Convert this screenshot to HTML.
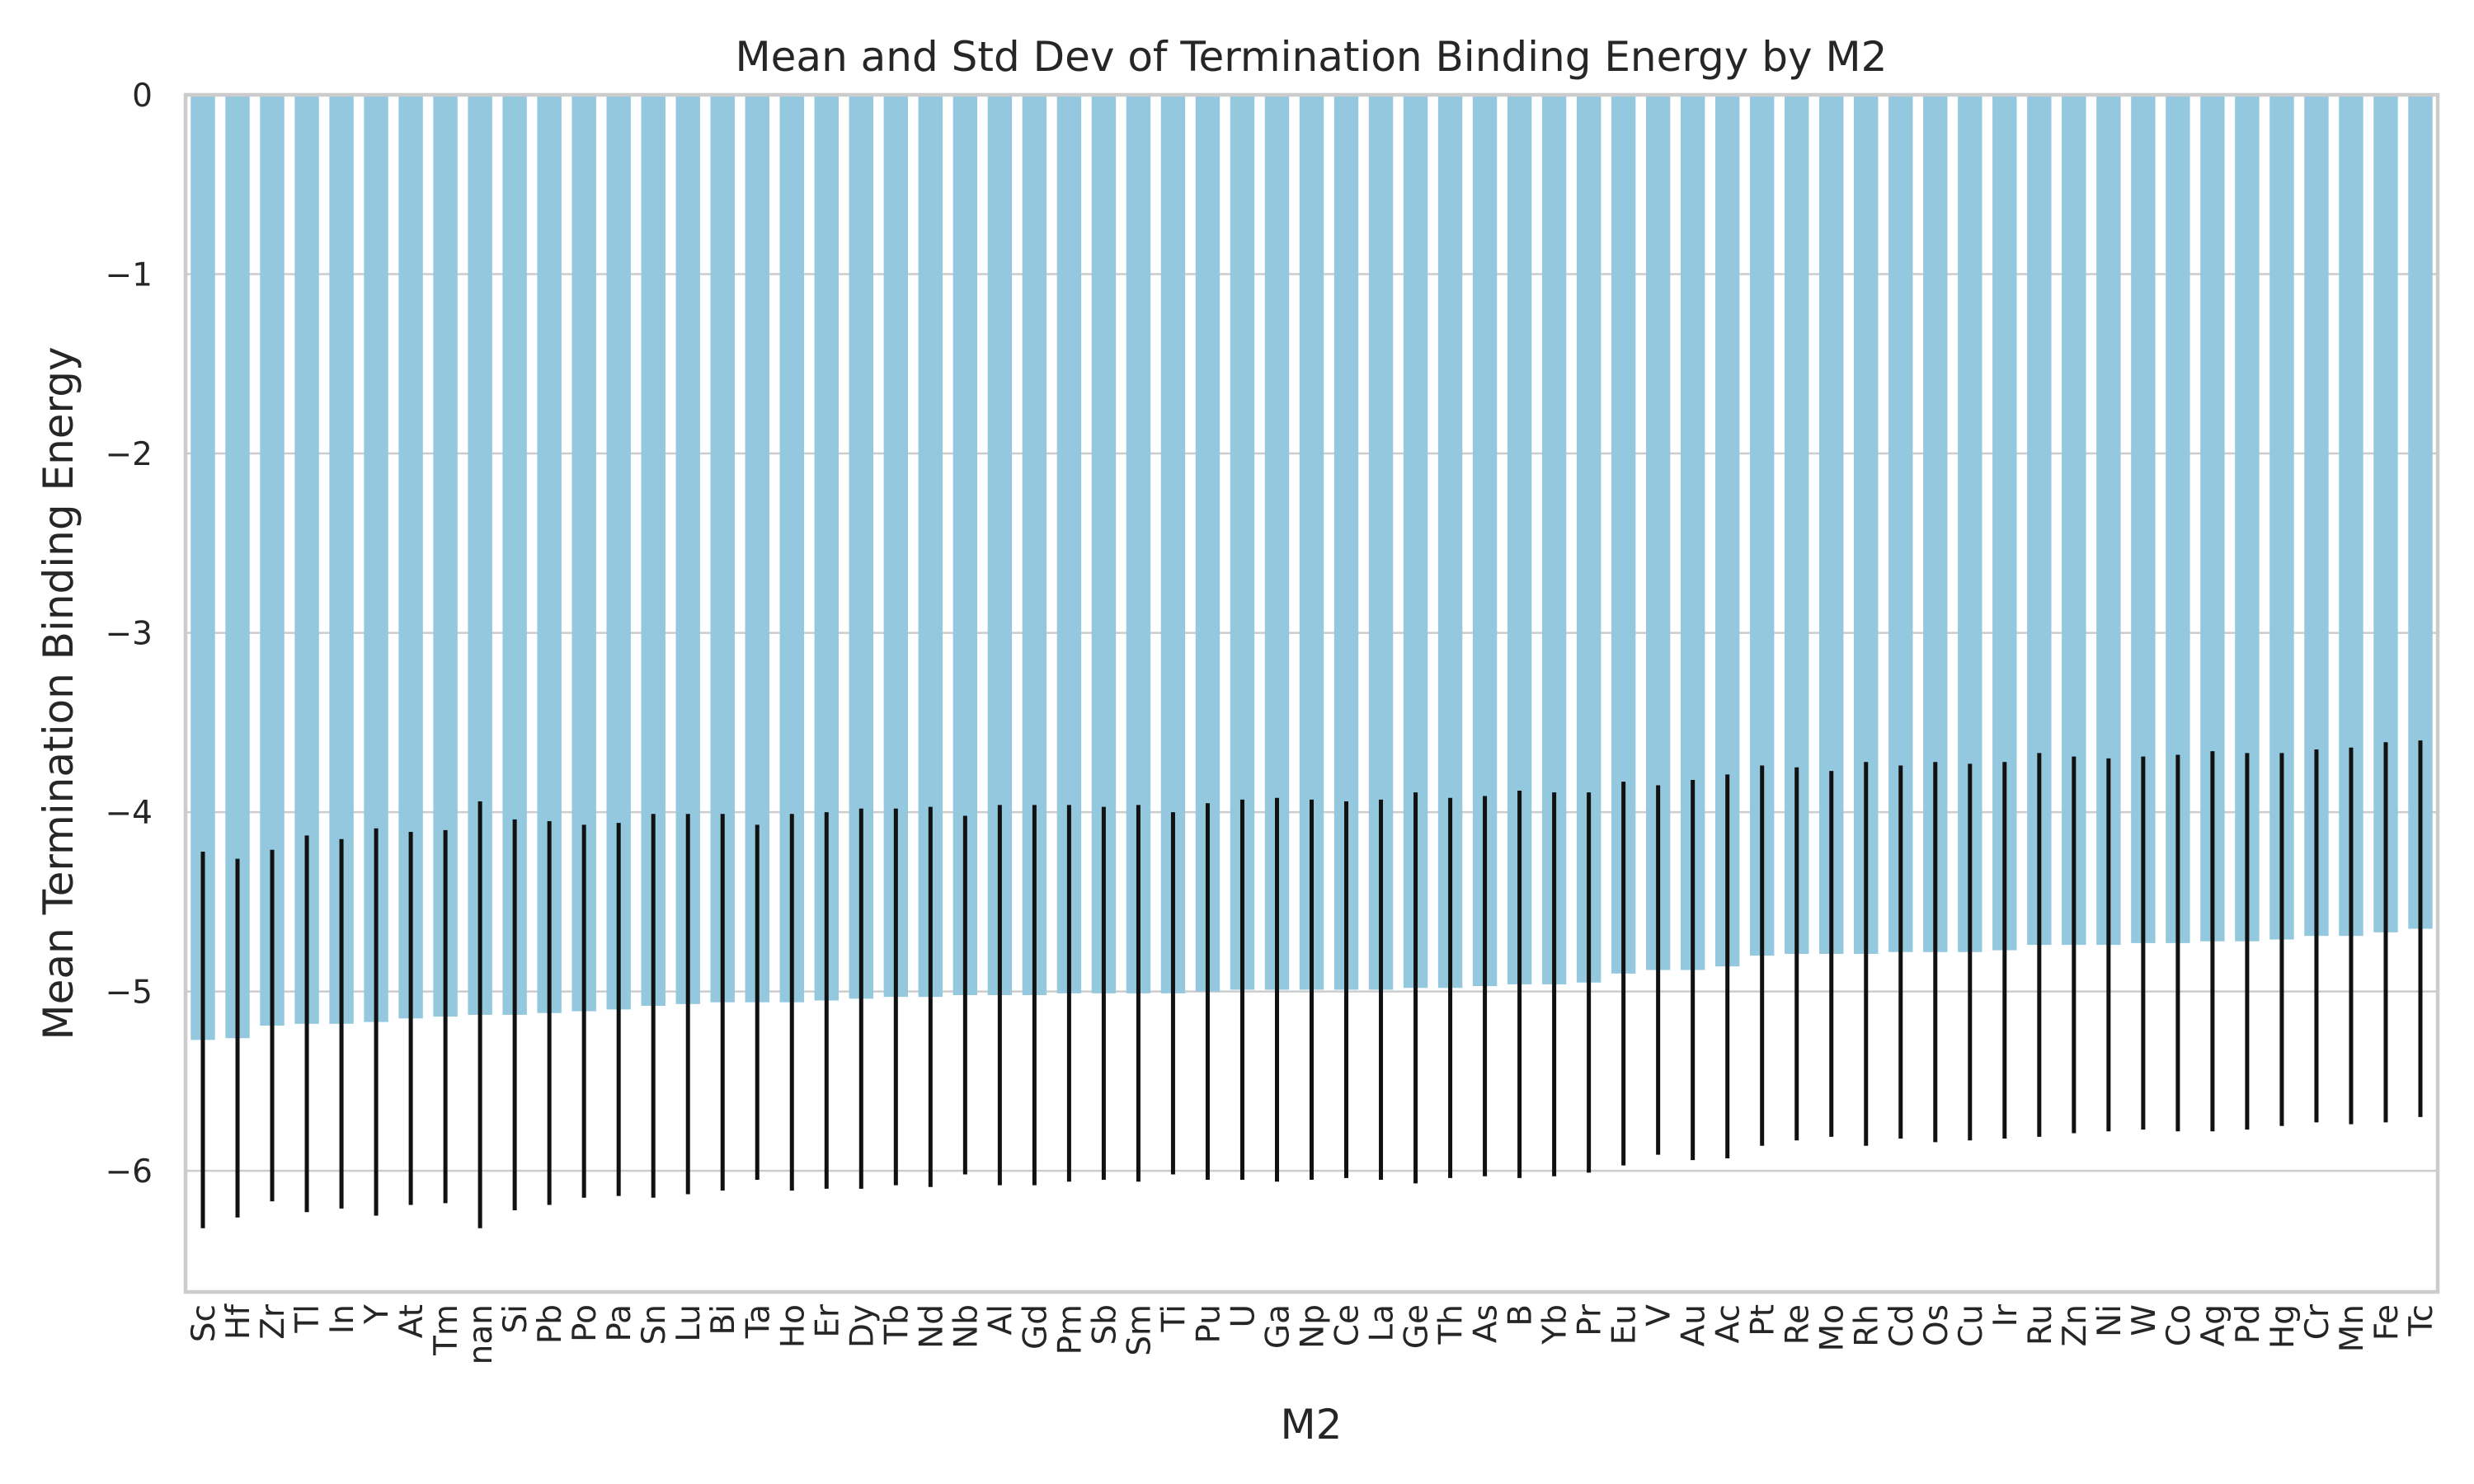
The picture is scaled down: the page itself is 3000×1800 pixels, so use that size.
<!DOCTYPE html>
<html><head><meta charset="utf-8"><style>
html,body{margin:0;padding:0;background:#fff;}
svg{display:block;font-family:"DejaVu Sans","Liberation Sans",sans-serif;}
</style></head><body>
<svg id="chart" width="3000" height="1800" viewBox="0 0 3000 1800">
<rect width="3000" height="1800" fill="#fff"/>
<text x="1590" y="86" font-size="50" text-anchor="middle" fill="#262626">Mean and Std Dev of Termination Binding Energy by M2</text>
<g id="grid"></g><g id="bars"></g><g id="errs"></g><g id="yticks"></g><g id="xticks"></g>
<rect x="225" y="115" width="2731" height="1452" fill="none" stroke="#cccccc" stroke-width="4.5"/>
<text x="0" y="0" transform="translate(88,841) rotate(-90)" font-size="50" text-anchor="middle" fill="#262626">Mean Termination Binding Energy</text>
<text x="1590" y="1745" font-size="50" text-anchor="middle" fill="#262626">M2</text>
</svg>
<script>
const categories=["Sc","Hf","Zr","Tl","In","Y","At","Tm","nan","Si","Pb","Po","Pa","Sn","Lu","Bi","Ta","Ho","Er","Dy","Tb","Nd","Nb","Al","Gd","Pm","Sb","Sm","Ti","Pu","U","Ga","Np","Ce","La","Ge","Th","As","B","Yb","Pr","Eu","V","Au","Ac","Pt","Re","Mo","Rh","Cd","Os","Cu","Ir","Ru","Zn","Ni","W","Co","Ag","Pd","Hg","Cr","Mn","Fe","Tc"];
const means=[-5.27,-5.26,-5.19,-5.18,-5.18,-5.17,-5.15,-5.14,-5.13,-5.13,-5.12,-5.11,-5.10,-5.08,-5.07,-5.06,-5.06,-5.06,-5.05,-5.04,-5.03,-5.03,-5.02,-5.02,-5.02,-5.01,-5.01,-5.01,-5.01,-5.00,-4.99,-4.99,-4.99,-4.99,-4.99,-4.98,-4.98,-4.97,-4.96,-4.96,-4.95,-4.90,-4.88,-4.88,-4.86,-4.80,-4.79,-4.79,-4.79,-4.78,-4.78,-4.78,-4.77,-4.74,-4.74,-4.74,-4.73,-4.73,-4.72,-4.72,-4.71,-4.69,-4.69,-4.67,-4.65];
const stds=[1.05,1.00,0.98,1.05,1.03,1.08,1.04,1.04,1.19,1.09,1.07,1.04,1.04,1.07,1.06,1.05,0.99,1.05,1.05,1.06,1.05,1.06,1.00,1.06,1.06,1.05,1.04,1.05,1.01,1.05,1.06,1.07,1.06,1.05,1.06,1.09,1.06,1.06,1.08,1.07,1.06,1.07,1.03,1.06,1.07,1.06,1.04,1.02,1.07,1.04,1.06,1.05,1.05,1.07,1.05,1.04,1.04,1.05,1.06,1.05,1.04,1.04,1.05,1.06,1.05];
const yTicks=[0,-1,-2,-3,-4,-5,-6];
const yTickLabels=["0","\u22121","\u22122","\u22123","\u22124","\u22125","\u22126"];
const NS="http://www.w3.org/2000/svg";
const L=225,R=2956,T=115,B=1567,yMax=0,yMin=-6.675;
const y=v=>T+(yMax-v)/(yMax-yMin)*(B-T);
const step=(R-L)/categories.length;
const x=i=>L+(i+0.5)*step;
function mk(tag,attrs,parent){const e=document.createElementNS(NS,tag);for(const k in attrs)e.setAttribute(k,attrs[k]);document.getElementById(parent).appendChild(e);return e;}
yTicks.forEach((t,i)=>{
  const g=mk("line",{x1:L,x2:R,y1:y(t),y2:y(t),stroke:"#cccccc","stroke-width":2.5},"grid");
  
  
  const tx=mk("text",{x:L-40,y:y(t)+14,"font-size":39,"text-anchor":"end",fill:"#262626"},"yticks");
  tx.textContent=yTickLabels[i];
  
  
});
const bw=step*0.7;
categories.forEach((c,i)=>{
  const b=mk("rect",{x:x(i)-bw/2,y:y(0),width:bw,height:y(means[i])-y(0),fill:"#94c8de"},"bars");
  
  
  const e=mk("line",{x1:x(i),x2:x(i),y1:y(means[i]+stds[i]),y2:y(means[i]-stds[i]),stroke:"#111","stroke-width":5},"errs");
  
  
  const tx=mk("text",{transform:`translate(${x(i)+14},1582) rotate(-90)`,"font-size":39,"text-anchor":"end",fill:"#262626"},"xticks");
  tx.textContent=c;
  
  
});
</script>
</body></html>
